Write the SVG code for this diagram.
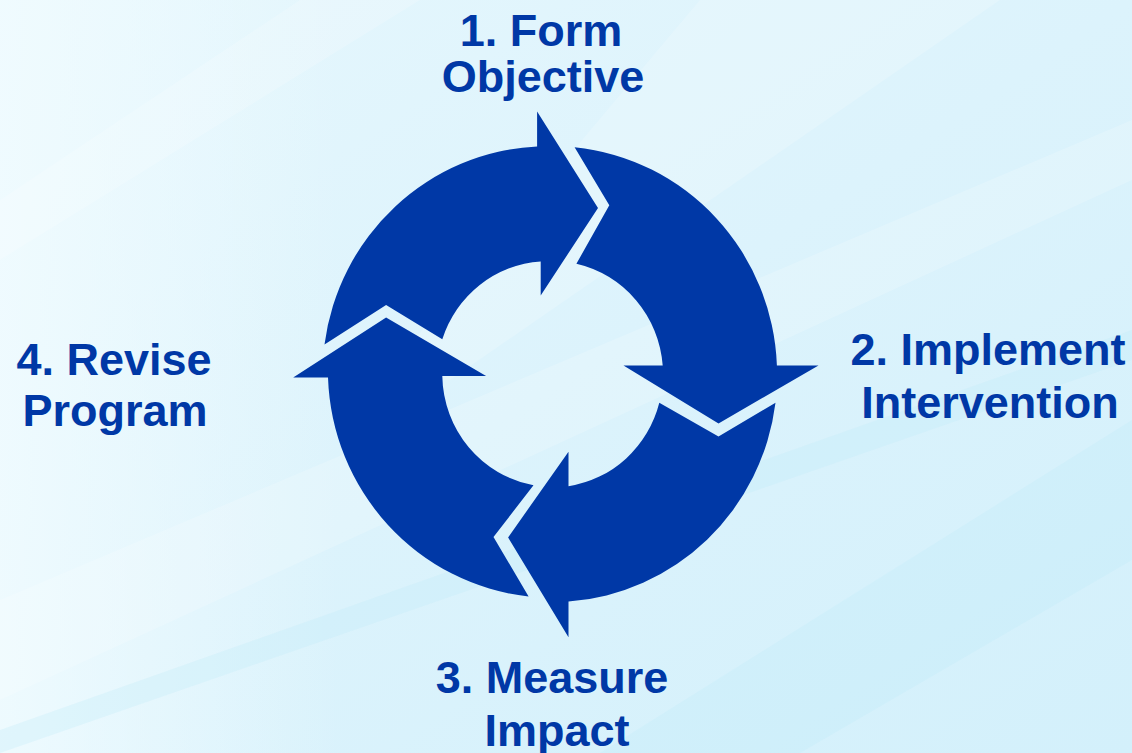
<svg xmlns="http://www.w3.org/2000/svg" width="1132" height="753" viewBox="0 0 1132 753">
  <defs>
    <linearGradient id="bg" x1="0" y1="0" x2="1" y2="1">
      <stop offset="0" stop-color="#E6F7FD"/>
      <stop offset="0.5" stop-color="#DCF3FC"/>
      <stop offset="1" stop-color="#D3F0FB"/>
    </linearGradient>
    <linearGradient id="side" x1="0" y1="0" x2="1" y2="0">
      <stop offset="0" stop-color="#F2FCFF" stop-opacity="0.8"/>
      <stop offset="0.3" stop-color="#F2FCFF" stop-opacity="0"/>
    </linearGradient>
    <style>
      .arrow { fill: #0038A6; stroke: none; }
      .label { font-family: "Liberation Sans", Arial, sans-serif; font-weight: bold; font-size: 45px; fill: #0038A6; text-anchor: middle; }
      .streak { fill: #FFFFFF; opacity: 0.18; }
      .streak2 { fill: #BFEBFA; opacity: 0.3; }
    </style>
  </defs>

  <rect x="0" y="0" width="1132" height="753" fill="url(#bg)"/>
  <rect x="0" y="0" width="1132" height="753" fill="url(#side)"/>
  <polygon class="streak" points="0,600 1132,120 1132,180 0,700"/>
  <polygon class="streak" points="300,0 420,0 0,260 0,200"/>
  <polygon class="streak" points="700,0 1000,0 450,380 380,380"/>
  <polygon class="streak2" points="600,753 1132,420 1132,560 800,753"/>
  <polygon class="streak2" points="0,753 0,730 1132,330 1132,360"/>

  <g id="connectors">
    <path id="arrow-1" class="arrow" d="M 324.5,344.5 A 225 228 0 0 1 537.1,146.5 L 537.1,111.5 L 598,208 L 540.7,295.5 L 540.7,261.5 A 111 113 0 0 0 442.3,339.3 L 386.1,305 Z"/>
    <path id="arrow-2" class="arrow" d="M 574.6,147.2 A 225 228 0 0 1 776.9,365.5 L 818.5,365.5 L 718.5,423.5 L 623.5,365.5 L 662.7,365.5 A 111 113 0 0 0 576.4,263.8 L 609.3,205.2 Z"/>
    <path id="arrow-3" class="arrow" d="M 775.5,402.8 A 225 228 0 0 1 568.5,601.6 L 568.5,637.2 L 508.1,537.4 L 568.5,451.8 L 568.5,486.2 A 111 113 0 0 0 659.3,402.8 L 718.5,436.5 Z"/>
    <path id="arrow-4" class="arrow" d="M 528.6,596.5 A 225 228 0 0 1 328,377.6 L 293.2,377.6 L 386.1,317.6 L 486.1,376 L 442.3,376 A 111 113 0 0 0 533.5,485.2 L 493.5,537 Z"/>
  </g>

  <g id="node-1">
    <text class="label" x="541" y="46">1. Form</text>
    <text class="label" x="543" y="92">Objective</text>
  </g>
  <g id="node-2">
    <text class="label" x="988" y="365">2. Implement</text>
    <text class="label" x="990" y="418">Intervention</text>
  </g>
  <g id="node-3">
    <text class="label" x="552" y="693">3. Measure</text>
    <text class="label" x="557" y="746">Impact</text>
  </g>
  <g id="node-4">
    <text class="label" x="114" y="375">4. Revise</text>
    <text class="label" x="115" y="426">Program</text>
  </g>
</svg>
